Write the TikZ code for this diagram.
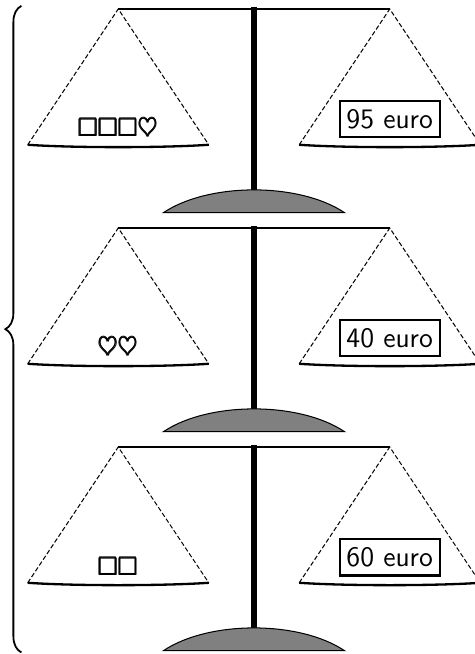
\documentclass[tikz,border=0pt]{standalone}
\usepackage{amsmath,amssymb}
\usepackage{tikz}
\usetikzlibrary{decorations.pathreplacing}
\begin{document}
\begin{tikzpicture}[x=0.62cm, y=0.62cm, every node/.style={font=\sffamily}, beam/.style={line width=0.9pt}, pole/.style={line width=2pt}, cord/.style={dash pattern=on 1.8pt off 0.9pt, line width=0.4pt}, pan/.style={line width=0.9pt}, foot/.style={draw, fill=gray, line width=0.4pt}, price/.style={draw, line width=0.8pt, font=\sffamily\fontsize{11}{13}\selectfont, inner xsep=2.7pt, inner ysep=3.2pt}, goods/.style={inner sep=0pt}]
	\useasboundingbox (-5.613,0.199) rectangle (4.884,-14.254);
	\foreach \row/\rowy/\leftgoods/\rightgoods in {a/0/{$\pmb{\square\square\square\heartsuit}$}/{95 euro}, b/-4.84/{$\pmb{\heartsuit\heartsuit}$}/{40 euro}, c/-9.68/{$\pmb{\square\square}$}/{60 euro}}{
		\begin{scope}[yshift=\rowy*0.62cm]
			\coordinate (apexl\row) at (-3,0);
			\coordinate (apexr\row) at (3,0);
			\draw[beam] (apexl\row) -- (apexr\row);
			\draw[pole] (0,0.05) -- (0,-4);
			\draw[cord] (-5,-3) -- (apexl\row) -- (-1,-3);
			\draw[cord] (1,-3) -- (apexr\row) -- (5,-3);
			\draw[pan] (-5,-3) .. controls (-4,-3.07) and (-2,-3.07) .. (-1,-3);
			\draw[pan] (1,-3) .. controls (2,-3.07) and (4,-3.07) .. (5,-3);
			\draw[foot] (-2,-4.5) .. controls (-1,-3.83) and (1,-3.83) .. (2,-4.5) -- cycle;
			\node[goods] (goods\row) at (-3,-2.64) {\leftgoods};
			\node[price] (price\row) at (3,-2.44) {\rightgoods};
		\end{scope}
	}
	\draw[line width=0.7pt, decorate, decoration={brace, amplitude=0.354*0.62cm}] (-5.14,-14.22) -- (-5.14,0.07);
\end{tikzpicture}
\end{document}
